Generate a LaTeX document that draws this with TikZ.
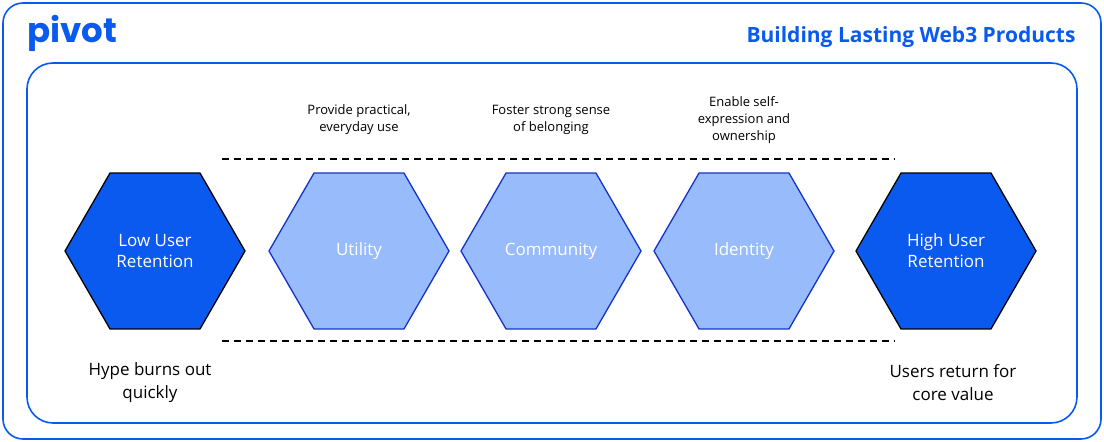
\documentclass[tikz,border=0pt]{standalone}
\usepackage{fontspec}
\setmainfont{Open Sans}
\newfontfamily\logofont{Poppins}
\usetikzlibrary{shapes.geometric,arrows.meta}
\definecolor{pblue}{HTML}{0A5AF0}
\definecolor{plight}{HTML}{98BBFC}
\definecolor{pedge}{HTML}{1432C8}
\definecolor{parrow}{HTML}{0A1ED2}
\tikzset{
  hex/.style={regular polygon,regular polygon sides=6,minimum size=180pt,inner sep=0pt,
    line width=1.3pt,text=white,font=\fontsize{17}{21}\selectfont,align=center},
  endhex/.style={hex,fill=pblue,draw=black},
  midhex/.style={hex,fill=plight,draw=pedge},
  flow/.style={dashed,dash pattern=on 7pt off 5pt,line width=1.3pt,black},
  tip/.style={-{Triangle[length=14pt,width=16pt,color=parrow]}},
  note/.style={font=\fontsize{13}{17}\selectfont,align=center},
  foot/.style={font=\fontsize{17}{23}\selectfont,align=center}
}
\begin{document}
\begin{tikzpicture}[x=1pt,y=-1pt]
\useasboundingbox (0,0) rectangle (1104,442);
\draw[pblue,line width=1.6pt,rounded corners=20pt] (3,3) rectangle (1101,439);
\draw[pblue,line width=1.6pt,rounded corners=26pt] (27,63) rectangle (1077,423);
\node[anchor=west,text=pblue,font=\logofont\bfseries\fontsize{34}{34}\selectfont] (logo) at (24,33) {pivot};
\node[anchor=east,text=pblue,font=\bfseries\fontsize{21}{25}\selectfont] (title) at (1079,37) {Building Lasting Web3 Products};

\node[endhex] (low) at (155,251) {Low User\\Retention};
\node[midhex] (util) at (359,251) {Utility};
\node[midhex] (comm) at (551,251) {Community};
\node[midhex] (iden) at (744,251) {Identity};
\node[endhex] (high) at (946,251) {High User\\Retention};

\node[note] (n1) at (359,120) {Provide practical,\\everyday use};
\node[note] (n2) at (551,120) {Foster strong sense\\of belonging};
\node[note] (n3) at (744,120) {Enable self-\\expression and\\ownership};

\node[foot] (f1) at (150,383) {Hype burns out\\quickly};
\node[foot] (f2) at (953,383) {Users return for\\core value};

\foreach \y/\r in {159/t,341/b}{
  \coordinate (\r0) at (222,\y);
  \coordinate (\r1) at (272,\y);
  \coordinate (\r2) at (464,\y);
  \coordinate (\r3) at (657,\y);
  \coordinate (\r4) at (849,\y);
  \coordinate (\r5) at (895,\y);
  \draw[flow] (\r0) -- (\r5);
  \foreach \a/\b in {0/1,1/2,2/3,3/4}
    \draw[tip,draw=none] (\r\a) -- (\r\b);
}
\end{tikzpicture}
\end{document}
